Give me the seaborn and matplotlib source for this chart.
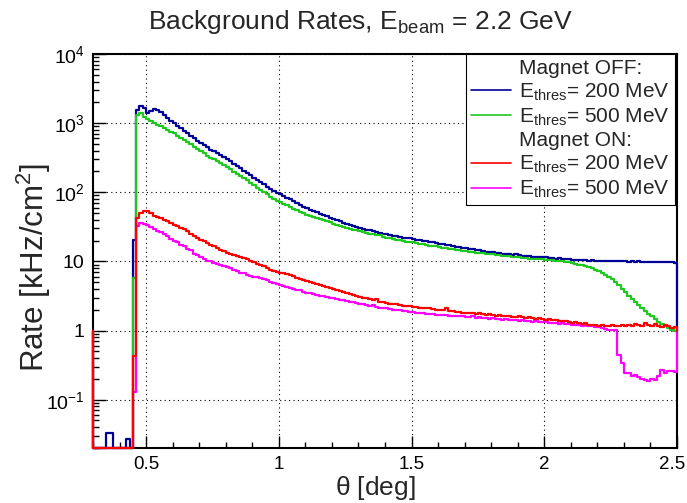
import numpy as np
import pandas as pd
import matplotlib
matplotlib.use("Agg")
import matplotlib.pyplot as plt
import matplotlib.transforms as mtransforms
from matplotlib.lines import Line2D
from matplotlib.ticker import FixedLocator, FixedFormatter, MultipleLocator, LogLocator, NullFormatter
import seaborn as sns

sns.set_style("ticks")
plt.rcParams["font.family"] = ["Liberation Sans", "DejaVu Sans"]
plt.rcParams["mathtext.fontset"] = "custom"
plt.rcParams["mathtext.rm"] = "Liberation Sans"
plt.rcParams["mathtext.it"] = "Liberation Sans:italic"
plt.rcParams["mathtext.default"] = "regular"

# theta binning [deg], 0.0125 deg bins shown from 0.3 to 2.5
edges = np.round(np.linspace(0.3, 2.5, 177), 5)

# rates [kHz/cm^2] per bin; first 12 bins (0.3 - 0.45 deg)
off_200_low = [0, 0, 0, 0, 0.033, 0.033, 0, 0, 0, 0, 0.027, 0]
off_200 = off_200_low + [
    20.6, 1550, 1770, 1630, 1420, 1500, 1590, 1550, 1430, 1300, 1190, 1080,
    990, 920, 850, 780, 720, 660, 610, 560, 520, 480, 450, 415,
    390, 365, 345, 320, 300, 280, 258, 238, 222, 206, 192, 178,
    163, 152, 141, 131, 121, 112, 104, 99, 94, 88, 83, 79,
    74, 70, 66, 62, 59, 56, 53, 51, 49, 47, 45, 43,
    41, 39.5, 38, 36.5, 34.5, 33.5, 32.5, 31.5, 30.5, 29.6, 28.8, 28.0,
    27.3, 26.5, 26.0, 25.2, 24.6, 24.0, 23.6, 23.0, 22.6, 22.1, 21.8, 21.5,
    21.2, 20.6, 20.2, 19.8, 19.5, 19.0, 18.8, 18.5, 18.0, 17.7, 17.4, 17.0,
    16.7, 16.4, 16.0, 15.6, 15.4, 15.1, 14.9, 14.6, 14.4, 14.2, 13.9, 13.7,
    13.5, 13.3, 13.1, 13.0, 12.8, 12.6, 12.4, 12.6, 12.2, 12.1, 12.0, 11.8,
    11.7, 11.7, 11.5, 11.6, 11.4, 11.3, 11.2, 11.0, 11.1, 10.9, 10.8, 10.8,
    10.6, 10.6, 10.5, 10.6, 10.5, 10.3, 10.4, 10.3, 10.2, 10.3, 10.1, 10.2,
    10.1, 10.0, 10.1, 10.0, 10.0, 9.9, 10.0, 9.9, 10.0, 9.9, 9.8, 9.9,
    9.8, 9.9, 9.8, 9.8, 9.7, 9.8, 9.7, 9.6]

off_500 = [0] * 12 + [
    5.8, 1310, 1385, 1230, 1135, 1060, 1000, 950, 900, 850, 800, 755,
    713, 662, 614, 570, 530, 492, 456, 423, 392, 365, 340, 318,
    298, 280, 263, 246, 230, 214, 197, 182, 171, 159, 148, 137,
    126, 117, 109, 101, 93, 86, 80, 76, 72, 68, 65, 62,
    58, 55, 52, 49.6, 47.2, 45.4, 43.5, 41.8, 40.7, 39.5, 37.8, 36.6,
    34.9, 34.0, 33.0, 31.8, 30.4, 29.5, 28.9, 28.0, 27.4, 26.6, 25.9, 25.2,
    24.8, 24.1, 23.7, 22.9, 22.1, 21.6, 21.2, 20.7, 20.1, 19.7, 19.4, 19.1,
    18.9, 18.4, 18.0, 17.6, 17.4, 16.9, 16.8, 16.5, 16.1, 15.8, 15.6, 15.3,
    15.0, 14.8, 14.5, 14.2, 14.0, 13.8, 13.6, 13.4, 13.3, 13.1, 12.9, 12.7,
    12.6, 12.4, 12.2, 12.1, 11.9, 11.8, 11.6, 11.6, 11.4, 11.3, 11.2, 11.0,
    10.9, 10.8, 10.7, 10.7, 10.6, 10.5, 10.4, 10.2, 10.2, 10.0, 9.9, 9.7,
    9.5, 9.3, 9.0, 8.8, 8.5, 8.2, 7.9, 7.5, 7.2, 6.8, 6.3, 5.9,
    5.5, 5.0, 4.5, 4.0, 3.6, 3.2, 2.9, 2.6, 2.35, 2.1, 1.9, 1.75,
    1.6, 1.45, 1.35, 1.25, 1.17, 1.1, 1.03, 0.98]

on_200 = [0] * 12 + [
    0.43, 42, 50, 54, 54, 50, 46, 44, 42, 40, 38, 36,
    34, 32, 30.5, 29, 27.5, 25, 23.5, 21.5, 20.5, 19.5, 18.4, 17.3,
    16.5, 15.6, 14.7, 14.0, 13.2, 12.8, 12.4, 12.1, 11.5, 11.1, 10.8, 10.2,
    9.7, 9.3, 8.9, 8.5, 8.0, 7.6, 7.3, 7.1, 6.9, 6.7, 6.6, 6.3,
    6.1, 5.8, 5.6, 5.4, 5.2, 5.0, 4.9, 4.7, 4.6, 4.4, 4.3, 4.1,
    4.0, 3.9, 3.7, 3.6, 3.5, 3.4, 3.3, 3.2, 3.1, 3.0, 2.95, 2.85,
    2.75, 2.9, 2.6, 2.55, 2.5, 2.45, 2.4, 2.4, 2.35, 2.3, 2.3, 2.25,
    2.22, 2.2, 2.15, 2.15, 2.1, 2.1, 2.05, 2.0, 2.0, 1.95, 2.1, 1.9,
    1.9, 1.85, 1.85, 1.8, 1.82, 1.78, 1.8, 1.75, 1.78, 1.72, 1.7, 1.72,
    1.68, 1.65, 1.68, 1.62, 1.6, 1.63, 1.58, 1.56, 1.6, 1.55, 1.52, 1.55,
    1.5, 1.48, 1.5, 1.46, 1.44, 1.45, 1.4, 1.42, 1.38, 1.36, 1.38, 1.32,
    1.3, 1.32, 1.28, 1.25, 1.27, 1.22, 1.2, 1.22, 1.18, 1.2, 1.16, 1.15,
    1.2, 1.18, 1.15, 1.2, 1.17, 1.22, 1.18, 1.25, 1.2, 1.17, 1.28, 1.2,
    1.15, 1.25, 1.18, 1.12, 1.2, 1.15, 1.1, 1.12]

on_500 = [0] * 12 + [
    0.13, 32, 36, 35, 34, 31.5, 29, 27.5, 26.5, 25, 23.5, 21,
    19.5, 18.8, 17.3, 16.5, 15.2, 14.5, 13, 12.5, 11.5, 11.0, 10.3, 10.0,
    9.6, 9.2, 8.9, 8.7, 8.3, 8.1, 7.5, 7.2, 6.9, 6.7, 6.4, 6.2,
    6.0, 5.9, 5.7, 5.6, 5.3, 5.1, 4.9, 4.7, 4.5, 4.4, 4.3, 4.15,
    4.0, 3.9, 3.8, 3.65, 3.55, 3.45, 3.35, 3.3, 3.2, 3.15, 3.05, 3.0,
    2.95, 2.9, 2.8, 2.75, 2.65, 2.6, 2.55, 2.5, 2.45, 2.4, 2.35, 2.3,
    2.35, 2.2, 2.15, 2.12, 2.1, 2.05, 2.0, 1.98, 1.95, 1.9, 1.92, 1.86,
    1.84, 1.82, 1.78, 1.8, 1.75, 1.72, 1.74, 1.7, 1.68, 1.7, 1.66, 1.64,
    1.65, 1.62, 1.6, 1.62, 1.58, 1.56, 1.6, 1.53, 1.55, 1.5, 1.52, 1.48,
    1.5, 1.46, 1.48, 1.44, 1.45, 1.42, 1.44, 1.4, 1.38, 1.4, 1.36, 1.37,
    1.34, 1.36, 1.32, 1.33, 1.32, 1.3, 1.28, 1.3, 1.26, 1.27, 1.24, 1.25,
    1.22, 1.2, 1.22, 1.18, 1.2, 1.16, 1.15, 1.13, 1.12, 1.08, 1.05, 1.03,
    1.02, 1.02, 0.45, 0.34, 0.245, 0.245, 0.22, 0.23, 0.21, 0.2, 0.19, 0.185,
    0.2, 0.19, 0.22, 0.27, 0.24, 0.26, 0.26, 0.25]

series = {"off200": off_200, "off500": off_500, "on500": on_500, "on200": on_200}
colors = {"off200": "#000099", "off500": "#1ec81e", "on200": "#ff0000", "on500": "#ff00ff"}
entry_text = r"E$_{\rm thres}$= %s MeV"

y_lo, y_hi = 0.02, 1e4
base = 1.0  # ROOT closes a log-y histogram outline at log(y) = 0


def stair_rows(name, vals):
    v = np.clip(np.asarray(vals, dtype=float), y_lo, None)
    xs = np.concatenate([[edges[0]], edges[:-1], [edges[-1], edges[-1]]])
    ys = np.concatenate([[base], v, [v[-1], base]])
    return pd.DataFrame({"theta": xs, "rate": ys, "series": name})


df = pd.concat([stair_rows(k, v) for k, v in series.items()], ignore_index=True)

fig = plt.figure(figsize=(6.87, 5.03), dpi=100)
ax = fig.add_axes([93 / 687, 1 - 448 / 503, 584 / 687, 394 / 503])
ax.set_yscale("log")

sns.lineplot(data=df, x="theta", y="rate", hue="series", hue_order=list(series.keys()),
             palette=colors, sort=False, estimator=None, drawstyle="steps-post",
             linewidth=1.6, legend=False, ax=ax, zorder=3, clip_on=False)

ax.set_xlim(0.3, 2.5)
ax.set_ylim(y_lo, y_hi)

ax.xaxis.set_major_locator(FixedLocator([0.5, 1, 1.5, 2, 2.5]))
ax.xaxis.set_major_formatter(FixedFormatter(["0.5", "1", "1.5", "2", "2.5"]))
ax.xaxis.set_minor_locator(MultipleLocator(0.1))
ax.yaxis.set_major_locator(FixedLocator([0.1, 1, 10, 100, 1000, 10000]))
ax.yaxis.set_major_formatter(FixedFormatter([r"$10^{-1}$", "1", "10", r"$10^{2}$", r"$10^{3}$", r"$10^{4}$"]))
ax.yaxis.set_minor_locator(LogLocator(base=10, subs=np.arange(2, 10), numticks=20))
ax.yaxis.set_minor_formatter(NullFormatter())

ax.tick_params(which="both", direction="in", top=False, right=False, width=1, colors="black")
ax.tick_params(which="major", length=9, labelsize=14, pad=6)
ax.tick_params(axis="x", which="major", labelsize=13.5)
ax.tick_params(which="minor", length=4.5)
ax.grid(True, which="major", color="black", linestyle=(0, (1, 3)), linewidth=0.8)
for s in ax.spines.values():
    s.set_linewidth(1.5)
    s.set_color("black")
# nudge the last x label a few pixels left so it stays on the canvas
last = ax.get_xticklabels()[-1]
last.set_transform(last.get_transform() + mtransforms.ScaledTranslation(-0.05, 0, fig.dpi_scale_trans))

ax.set_xlabel(r"$\theta$ [deg]", fontsize=19)
ax.xaxis.set_label_coords((375 - 93) / 584, (448 - 488) / 394)
ax.xaxis.label.set_va("center")
ax.set_ylabel(r"Rate [kHz/cm$^{2}$]", fontsize=22.5)
ax.yaxis.set_label_coords((34 - 93) / 584, (448 - 267) / 394)
ax.yaxis.label.set_va("center")

fig.text(361 / 687, 1 - 22 / 503, r"Background Rates, E$_{\rm beam}$ = 2.2 GeV",
         ha="center", va="center", fontsize=19)

blank = Line2D([], [], color="none")
handles = [blank,
           Line2D([], [], color=colors["off200"], lw=1.2),
           Line2D([], [], color=colors["off500"], lw=1.2),
           blank,
           Line2D([], [], color=colors["on200"], lw=1.2),
           Line2D([], [], color=colors["on500"], lw=1.2)]
labels = ["Magnet OFF:", entry_text % "200", entry_text % "500",
          "Magnet ON:", entry_text % "200", entry_text % "500"]
leg = ax.legend(handles, labels, loc="upper right", bbox_to_anchor=(675 / 687, 1 - 54 / 503),
                bbox_transform=fig.transFigure, borderaxespad=0, fontsize=15,
                handlelength=1.9, handletextpad=0.4, labelspacing=0.17, borderpad=0.25,
                frameon=True, fancybox=False, framealpha=1, edgecolor="black")
leg.get_frame().set_linewidth(0.8)
leg.set_zorder(5)

fig.savefig("out.png", dpi=100)
